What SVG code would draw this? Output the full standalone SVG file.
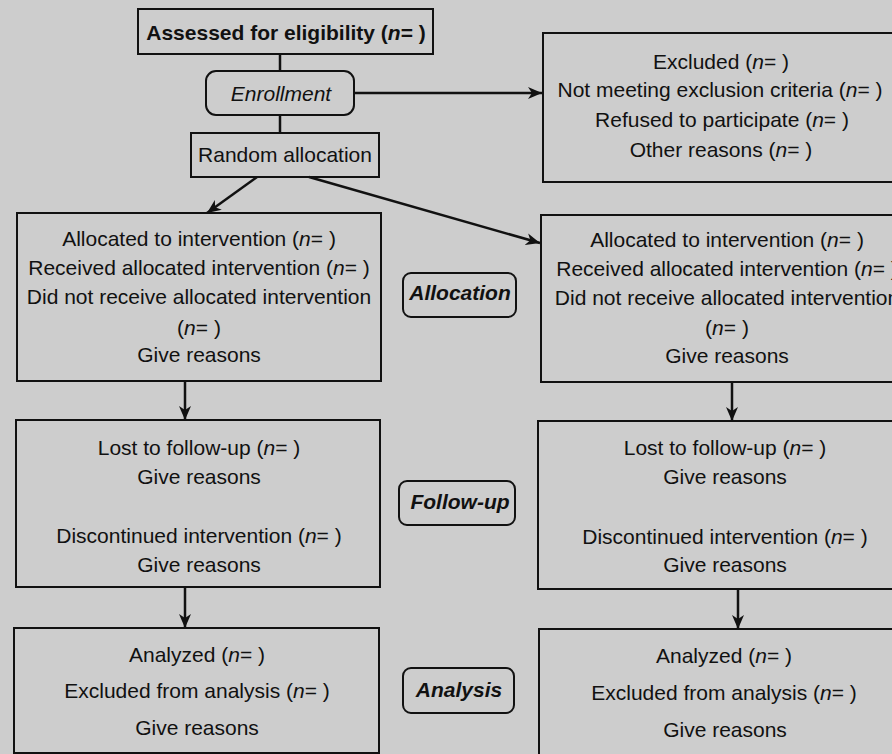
<svg xmlns="http://www.w3.org/2000/svg" width="892" height="754" viewBox="0 0 892 754">
<defs>
<marker id="arr" markerUnits="userSpaceOnUse" markerWidth="16" markerHeight="12" refX="14" refY="6" orient="auto">
<path d="M0,0 L14,6 L0,12 L4,6 z" fill="#111"/>
</marker>
<style>
.box{fill:none;stroke:#111;stroke-width:2}
.lbl{fill:none;stroke:#111;stroke-width:2}
.t{font-family:"Liberation Sans",Arial,sans-serif;font-size:21px;fill:#111;text-anchor:middle}
.b{font-weight:bold}
.i{font-style:italic}
.bi{font-weight:bold;font-style:italic}
.c{stroke:#111;stroke-width:2.5;fill:none}
</style>
</defs>
<rect x="0" y="0" width="892" height="754" fill="#cdcdcd"/>

<g id="connectors">
<line class="c" x1="280" y1="54" x2="280" y2="71"/>
<line class="c" x1="280" y1="115" x2="280" y2="133"/>
<line class="c" x1="354" y1="93" x2="542" y2="93" marker-end="url(#arr)"/>
<line class="c" x1="257" y1="177" x2="207" y2="213" marker-end="url(#arr)"/>
<line class="c" x1="309" y1="177" x2="540" y2="243" marker-end="url(#arr)"/>
<line class="c" x1="185" y1="381" x2="185" y2="420" marker-end="url(#arr)"/>
<line class="c" x1="185" y1="587" x2="185" y2="628" marker-end="url(#arr)"/>
<line class="c" x1="732" y1="382" x2="732" y2="421" marker-end="url(#arr)"/>
<line class="c" x1="738" y1="589" x2="738" y2="629" marker-end="url(#arr)"/>
</g>

<g id="assessed">
<rect class="box" x="138" y="9" width="295" height="45"/>
<text class="t b" x="286" y="40">Assessed for eligibility (<tspan class="i">n</tspan>= )</text>
</g>

<g id="enrollment">
<rect class="box" x="206" y="71" width="148" height="44" rx="10"/>
<text class="t i" x="281" y="101">Enrollment</text>
</g>

<g id="random">
<rect class="box" x="191" y="133" width="188" height="44"/>
<text class="t" x="285" y="162">Random allocation</text>
</g>

<g id="excluded">
<rect class="box" x="543" y="33" width="360" height="149"/>
<text class="t" x="721" y="69">Excluded (<tspan class="i">n</tspan>= )</text>
<text class="t" x="720" y="97">Not meeting exclusion criteria (<tspan class="i">n</tspan>= )</text>
<text class="t" x="722" y="127">Refused to participate (<tspan class="i">n</tspan>= )</text>
<text class="t" x="721" y="157">Other reasons (<tspan class="i">n</tspan>= )</text>
</g>

<g id="alloc-left">
<rect class="box" x="17" y="213" width="364" height="168"/>
<text class="t" x="199" y="246">Allocated to intervention (<tspan class="i">n</tspan>= )</text>
<text class="t" x="199" y="275">Received allocated intervention (<tspan class="i">n</tspan>= )</text>
<text class="t" x="199" y="304">Did not receive allocated intervention</text>
<text class="t" x="199" y="335">(<tspan class="i">n</tspan>= )</text>
<text class="t" x="199" y="362">Give reasons</text>
</g>

<g id="alloc-right">
<rect class="box" x="541" y="215" width="362" height="167"/>
<text class="t" x="727" y="247">Allocated to intervention (<tspan class="i">n</tspan>= )</text>
<text class="t" x="727" y="276">Received allocated intervention (<tspan class="i">n</tspan>= )</text>
<text class="t" x="727" y="305">Did not receive allocated intervention</text>
<text class="t" x="727" y="335">(<tspan class="i">n</tspan>= )</text>
<text class="t" x="727" y="363">Give reasons</text>
</g>

<g id="label-allocation">
<rect class="lbl" x="403" y="273" width="113" height="44" rx="8"/>
<text class="t bi" x="460" y="300">Allocation</text>
</g>

<g id="followup-left">
<rect class="box" x="16" y="420" width="364" height="167"/>
<text class="t" x="199" y="455">Lost to follow-up (<tspan class="i">n</tspan>= )</text>
<text class="t" x="199" y="484">Give reasons</text>
<text class="t" x="199" y="543">Discontinued intervention (<tspan class="i">n</tspan>= )</text>
<text class="t" x="199" y="572">Give reasons</text>
</g>

<g id="followup-right">
<rect class="box" x="538" y="421" width="365" height="168"/>
<text class="t" x="725" y="455">Lost to follow-up (<tspan class="i">n</tspan>= )</text>
<text class="t" x="725" y="484">Give reasons</text>
<text class="t" x="725" y="544">Discontinued intervention (<tspan class="i">n</tspan>= )</text>
<text class="t" x="725" y="572">Give reasons</text>
</g>

<g id="label-followup">
<rect class="lbl" x="399" y="481" width="116" height="44" rx="8"/>
<text class="t bi" x="460" y="509">Follow-up</text>
</g>

<g id="analysis-left">
<rect class="box" x="14" y="628" width="365" height="125"/>
<text class="t" x="197" y="662">Analyzed (<tspan class="i">n</tspan>= )</text>
<text class="t" x="197" y="698">Excluded from analysis (<tspan class="i">n</tspan>= )</text>
<text class="t" x="197" y="735">Give reasons</text>
</g>

<g id="analysis-right">
<rect class="box" x="539" y="629" width="364" height="140"/>
<text class="t" x="724" y="663">Analyzed (<tspan class="i">n</tspan>= )</text>
<text class="t" x="724" y="700">Excluded from analysis (<tspan class="i">n</tspan>= )</text>
<text class="t" x="725" y="737">Give reasons</text>
</g>

<g id="label-analysis">
<rect class="lbl" x="403" y="668" width="111" height="45" rx="8"/>
<text class="t bi" x="459" y="697">Analysis</text>
</g>
</svg>
